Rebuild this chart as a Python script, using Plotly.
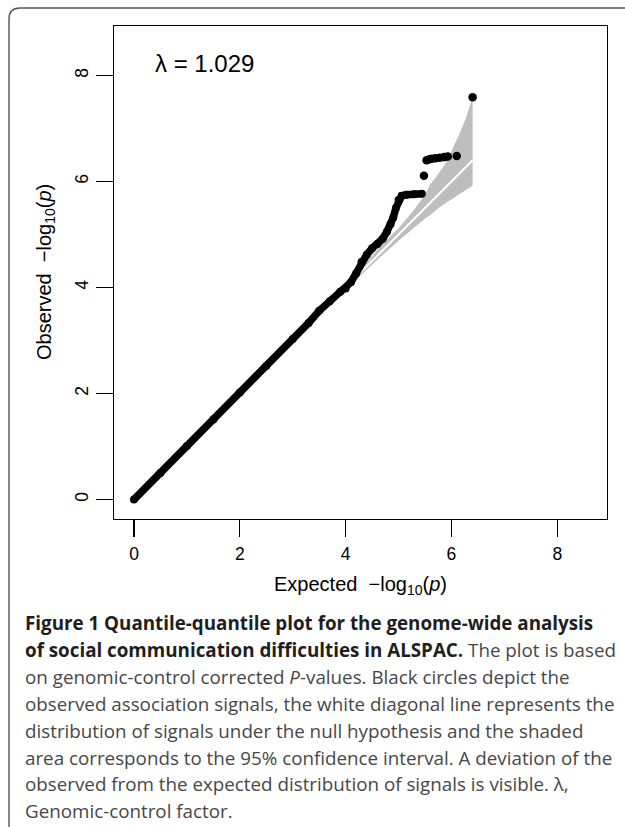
import plotly.graph_objects as go

# ---- data ----
# dense run of observed points (expected, observed)
obs_x = [0.0, 0.5, 1.0, 1.5, 2.0, 2.5, 3.0, 3.3, 3.5, 3.7, 3.9, 4.0, 4.1, 4.2, 4.3,
         4.4, 4.5, 4.6, 4.7, 4.78, 4.85, 4.9, 4.95, 5.0, 5.06, 5.15, 5.3, 5.44]
obs_y = [0.0, 0.5, 1.01, 1.51, 2.02, 2.52, 3.03, 3.33, 3.56, 3.74, 3.92, 3.98, 4.1, 4.27, 4.48,
         4.62, 4.74, 4.82, 4.92, 5.05, 5.2, 5.32, 5.5, 5.65, 5.73, 5.75, 5.76, 5.77]
# isolated top signals
top_x = [5.48, 5.53, 5.58, 5.63, 5.70, 5.78, 5.86, 5.93, 6.10, 6.40]
top_y = [6.11, 6.40, 6.42, 6.43, 6.44, 6.45, 6.46, 6.47, 6.48, 7.59]
# 95% confidence band
ci_x = [3.5, 4.0, 4.3, 4.65, 5.0, 5.28, 5.5, 5.6, 5.72, 5.9, 6.04, 6.13, 6.26, 6.40]
ci_upper = [3.53, 4.04, 4.36, 4.77, 5.12, 5.45, 5.75, 5.95, 6.10, 6.36, 6.66, 6.85, 7.16, 7.58]
ci_lower = [3.47, 3.96, 4.24, 4.57, 4.88, 5.12, 5.30, 5.37, 5.47, 5.60, 5.69, 5.75, 5.83, 5.92]
# null line
null_x = [0.0, 6.40]
null_y = [0.0, 6.40]

tick_vals = [0, 2, 4, 6, 8]
tick_text = ["0", "2", "4", "6", "8"]
lambda_text = "\u03bb = 1.029"

B_ON = "<span style='color:#1e1e1e'><b>"
B_OFF = "</b></span>"
caption_lines = [
    B_ON + "Figure 1 Quantile-quantile plot for the genome-wide analysis" + B_OFF,
    B_ON + "of social communication difficulties in ALSPAC." + B_OFF + " The plot is based",
    "on genomic-control corrected <i>P</i>-values. Black circles depict the",
    "observed association signals, the white diagonal line represents the",
    "distribution of signals under the null hypothesis and the shaded",
    "area corresponds to the 95% confidence interval. A deviation of the",
    "observed from the expected distribution of signals is visible. \u03bb,",
    "Genomic-control factor.",
]

# ---- layout geometry (pixels) ----
W, H = 625, 827
L, R, T, B = 114, 607, 26, 519


def px(xp):
    return (xp - L) / (R - L)


def py(yp):
    return (B - yp) / (B - T)


fig = go.Figure()

fig.add_trace(go.Scatter(
    x=ci_x + ci_x[::-1], y=ci_upper + ci_lower[::-1],
    fill="toself", fillcolor="#BEBEBE", mode="none", hoverinfo="skip",
    showlegend=False))
fig.add_trace(go.Scatter(
    x=null_x, y=null_y, mode="lines", line=dict(color="white", width=2),
    showlegend=False))
fig.add_trace(go.Scatter(
    x=obs_x, y=obs_y, mode="lines+markers",
    line=dict(color="black", width=7.5), marker=dict(color="black", size=8),
    showlegend=False))
fig.add_trace(go.Scatter(
    x=top_x, y=top_y, mode="markers", marker=dict(color="black", size=8.5),
    showlegend=False))

axis_common = dict(
    showgrid=False, zeroline=False, showline=True, linecolor="black", linewidth=1.3,
    mirror=True, ticks="outside", ticklen=17, tickwidth=1.3, tickcolor="black",
    tickvals=tick_vals, ticktext=tick_text,
    tickfont=dict(family="Liberation Sans, Arial", size=17.5, color="black"),
)
fig.update_xaxes(range=[-0.378, 8.94], ticklabelstandoff=2, **axis_common)
fig.update_yaxes(range=[-0.368, 8.934], tickangle=-90, ticklabelstandoff=1, **axis_common)

annotations = []
annotations.append(dict(
    x=px(153), y=py(63), xref="paper", yref="paper", xanchor="left", yanchor="middle",
    text=lambda_text, showarrow=False,
    font=dict(family="Liberation Sans, Arial", size=24, color="black")))
annotations.append(dict(
    x=0.5, y=py(585), xref="paper", yref="paper", xanchor="center", yanchor="middle",
    text="Expected&nbsp;&nbsp;\u2212log<sub>10</sub>(<i>p</i>)", showarrow=False,
    font=dict(family="Liberation Sans, Arial", size=20, color="black")))
annotations.append(dict(
    x=px(45), y=py(272), xref="paper", yref="paper", xanchor="center", yanchor="middle",
    text="Observed&nbsp;&nbsp;\u2212log<sub>10</sub>(<i>p</i>)", showarrow=False, textangle=-90,
    font=dict(family="Liberation Sans, Arial", size=20, color="black")))

for i, line in enumerate(caption_lines):
    annotations.append(dict(
        x=px(23), y=py(623 + 26.9 * i), xref="paper", yref="paper",
        xanchor="left", yanchor="middle", text=line, showarrow=False,
        font=dict(family="Open Sans", size=18.8, color="#474747")))

# rounded outer frame
r = 11
x0, y0, y1 = 9, 8, 836
path = (f"M {px(640)},{py(y0)} L {px(x0 + r)},{py(y0)} "
        f"Q {px(x0)},{py(y0)} {px(x0)},{py(y0 + r)} "
        f"L {px(x0)},{py(y1 - r)} Q {px(x0)},{py(y1)} {px(x0 + r)},{py(y1)} "
        f"L {px(640)},{py(y1)}")
shapes = [dict(type="path", path=path, xref="paper", yref="paper",
               line=dict(color="#555555", width=1.4))]

fig.update_layout(
    width=W, height=H, margin=dict(l=L, r=W - R, t=T, b=H - B, pad=0),
    paper_bgcolor="white", plot_bgcolor="white",
    annotations=annotations, shapes=shapes, showlegend=False,
)

fig.write_html("out.html",
               config={"displayModeBar": False, "staticPlot": True},
               post_script="document.body.style.margin='0px';"
                           "document.body.style.overflow='hidden';")
